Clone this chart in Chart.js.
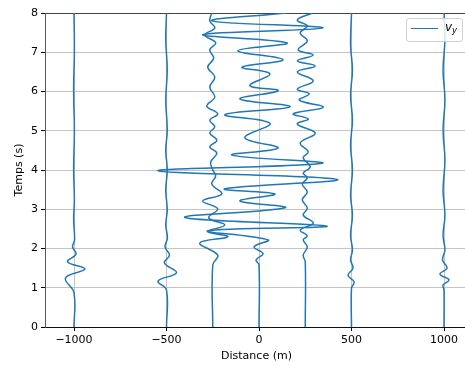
<!DOCTYPE html>
<html>
<head>
<meta charset="utf-8">
<script src="https://cdn.jsdelivr.net/npm/chart.js@4/dist/chart.umd.min.js"></script>
<style>
  html, body { margin: 0; padding: 0; background: #fff; overflow: hidden; }
  #wrap { position: relative; width: 465px; height: 370px; overflow: hidden; }
  #legend {
    position: absolute; left: 406px; top: 18px; width: 57px; height: 24px;
    border: 1px solid #d0d0d0; border-radius: 3px; background: rgba(255,255,255,0.8);
    box-sizing: border-box;
  }
  #legend .sample {
    position: absolute; left: 4px; top: 9px; width: 27px; height: 0;
    border-top: 1.5px solid #1f77b4;
  }
  #legend .label {
    position: absolute; left: 38px; top: 1px;
    font-family: "DejaVu Sans", sans-serif; font-style: italic; font-size: 12px; color: #000;
  }
  #legend sub { font-size: 8.5px; vertical-align: -2px; }
</style>
</head>
<body>
<div id="wrap">
  <canvas id="chart" width="470" height="370"></canvas>
  <div id="legend"><span class="sample"></span><span class="label">v<sub>y</sub></span></div>
</div>
<script>
// Trace positions along the line (m)
const positions = [-1000, -500, -250, 0, 250, 500, 1000];

// Each trace: time samples (s) and horizontal offset of the wiggle (m)
const times_m1000 = [0, 0.87, 1.25, 1.48, 1.66, 1.86, 2.04, 2.22, 2.73, 3.24, 4.00, 5.02, 6.04, 7.06, 8.0];
const offsets_m1000 = [0, 0, -46, 59, -35, 11, -8, 3, -2, 2, -2, 2, -2, 2, 0];

const times_m500 = [0, 0.94, 1.17, 1.38, 1.63, 1.83, 2.04, 2.27, 2.60, 2.98, 3.49, 4.00, 4.51, 5.02, 5.78, 6.55, 7.31, 8.0];
const offsets_m500 = [0, 0, -46, 54, -11, 16, -8, 5, -4, 4, -4, 4, -4, 4, -4, 4, -4, 0];

const times_m250 = [0, 1.58, 1.83, 2.14, 2.30, 2.43, 2.60, 2.78, 3.01, 3.21, 3.39, 3.64, 3.85, 4.00, 4.20, 4.43, 4.59, 4.76, 4.94, 5.10, 5.27, 5.43, 5.63, 5.86, 6.11, 6.37, 6.62, 6.85, 7.06, 7.24, 7.44, 7.62, 7.80, 8.0];
const offsets_m250 = [0, 0, 27, -70, 81, -27, 65, -22, 27, -54, 49, -5, 16, 0, -11, 22, -16, 22, -16, 11, -16, 27, -32, 11, -16, 11, -27, 5, -16, 16, -43, 11, -16, -5];

const times_0 = [0, 1.58, 1.71, 1.87, 2.04, 2.22, 2.45, 2.57, 2.79, 3.04, 3.21, 3.39, 3.52, 3.76, 3.98, 4.17, 4.38, 4.56, 4.82, 5.19, 5.41, 5.61, 5.81, 6.02, 6.15, 6.45, 6.62, 6.81, 7.04, 7.24, 7.45, 7.62, 7.80, 8.0];
const offsets_0 = [0, 0, -16, 22, -27, 49, -276, 368, -400, 141, -103, 86, -184, 422, -546, 341, -146, 103, -76, 59, -184, 168, -103, 103, -49, 59, -92, 130, -114, 151, -303, 346, -254, 151];

const times_250 = [0, 1.66, 1.83, 2.04, 2.22, 2.32, 2.47, 2.65, 2.85, 3.03, 3.24, 3.44, 3.64, 3.80, 3.92, 4.08, 4.31, 4.46, 4.69, 4.94, 5.17, 5.30, 5.43, 5.60, 5.78, 5.94, 6.06, 6.27, 6.50, 6.65, 6.78, 6.93, 7.06, 7.29, 7.49, 7.67, 7.82, 8.0];
const offsets_250 = [0, 0, -11, 11, -11, 11, -27, 43, -11, 11, -16, 11, -16, 11, -11, 27, -11, 16, -27, 54, -43, 16, -65, 97, -32, 22, -43, 43, -43, 54, -43, 43, -38, 11, -27, 11, -43, 38];

const times_500 = [0, 0.99, 1.15, 1.32, 1.50, 1.71, 1.96, 2.34, 2.85, 3.36, 4.00, 4.64, 5.27, 5.91, 6.55, 7.18, 8.0];
const offsets_500 = [0, 0, 14, -19, 8, -5, 5, -5, 5, -5, 5, -5, 5, -5, 5, -5, 0];

const times_1000 = [0, 0.94, 1.07, 1.20, 1.35, 1.50, 1.71, 1.96, 2.34, 2.85, 3.49, 4.25, 5.02, 5.78, 6.55, 7.31, 8.0];
const offsets_1000 = [0, 0, -5, 27, -22, 16, -8, 5, -5, 5, -5, 5, -5, 5, -5, 5, 0];

const xTicks = [-1000, -500, 0, 500, 1000];
const yTicks = [0, 1, 2, 3, 4, 5, 6, 7, 8];

const traceTimes = [times_m1000, times_m500, times_m250, times_0, times_250, times_500, times_1000];
const traceOffsets = [offsets_m1000, offsets_m500, offsets_m250, offsets_0, offsets_250, offsets_500, offsets_1000];

const datasets = positions.map((pos, k) => ({
  label: 'v_y',
  data: traceTimes[k].map((t, i) => ({ x: pos + traceOffsets[k][i], y: t })),
  showLine: true,
  borderColor: '#1f77b4',
  borderWidth: 1.5,
  pointRadius: 0,
  tension: 0.4,
  fill: false
}));

const font = { family: '"DejaVu Sans", sans-serif', size: 11 };
const minus = v => (v < 0 ? '\u2212' + Math.abs(v) : String(v));

new Chart(document.getElementById('chart'), {
  type: 'scatter',
  data: { datasets },
  options: {
    responsive: false,
    animation: false,
    devicePixelRatio: 1,
    layout: { padding: { top: 13, right: 2, left: 0, bottom: 0 } },
    plugins: { legend: { display: false }, tooltip: { enabled: false } },
    scales: {
      x: {
        type: 'linear',
        min: -1156.8,
        max: 1129.7,
        afterFit: s => { s.height = 43; },
        afterBuildTicks: s => { s.ticks = xTicks.map(v => ({ value: v })); },
        ticks: { font, color: '#000', padding: 3, callback: v => minus(v) },
        grid: { color: '#c4c4c4', lineWidth: 1, tickLength: 4, tickColor: '#000' },
        border: { display: true, color: '#111', width: 1 },
        title: { display: true, text: 'Distance (m)', font, color: '#000', padding: { top: 0, bottom: 7 } }
      },
      y: {
        type: 'linear',
        min: 0,
        max: 8,
        afterFit: s => { s.width = 45; },
        afterBuildTicks: s => { s.ticks = yTicks.map(v => ({ value: v })); },
        ticks: { font, color: '#000', padding: 3 },
        grid: {
          color: c => (c.tick && c.tick.value === 8 ? '#444' : '#c4c4c4'),
          lineWidth: 1, tickLength: 4, tickColor: '#000'
        },
        border: { display: true, color: '#555', width: 1 },
        title: { display: true, text: 'Temps (s)', font, color: '#000', padding: { top: 13, bottom: 0 } }
      }
    }
  }
});
</script>
</body>
</html>
